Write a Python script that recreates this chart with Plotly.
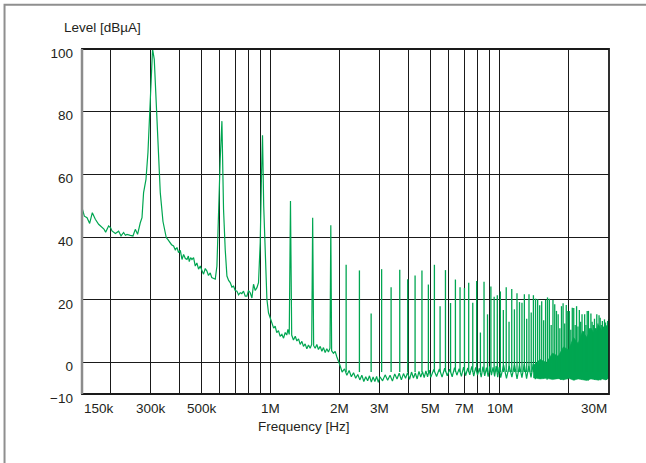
import math
import plotly.graph_objects as go

# ── Colours ──────────────────────────────────────────────────────────────────
C_TRACE = "#00A651"
C_GRID = "#1a1a1a"
C_TEXT = "#231f20"
C_LEFT = "#8c8c8c"
C_FRAME = "#8f8f8f"
FONT = "Liberation Sans, Arial, sans-serif"

# ── Data (frequency in MHz, level in dBµA) ──────────────────────────────────
# measured trace 150 kHz .. 2 MHz (fundamental + low harmonics)
lo_freq = [
    0.1505, 0.1536, 0.1578, 0.1620, 0.1664, 0.1690, 0.1715, 0.1773, 0.1835, 0.1870,
    0.1902, 0.1960, 0.2000, 0.2028, 0.2098, 0.2168, 0.2221, 0.2250, 0.2279, 0.2320,
    0.2359, 0.2438, 0.2504, 0.2563, 0.2623, 0.2695, 0.2742, 0.2786, 0.2854, 0.2911,
    0.2980, 0.3049, 0.3102, 0.3165, 0.3239, 0.3295, 0.3386, 0.3499, 0.3560, 0.3618,
    0.3690, 0.3766, 0.3830, 0.3898, 0.3960, 0.4030, 0.4100, 0.4166, 0.4240, 0.4310,
    0.4370, 0.4410, 0.4470, 0.4531, 0.4605, 0.4684, 0.4760, 0.4842, 0.4925, 0.5000,
    0.5090, 0.5180, 0.5266, 0.5350, 0.5445, 0.5530, 0.5612, 0.5726, 0.5824, 0.5919,
    0.6020, 0.6124, 0.6224, 0.6331, 0.6440, 0.6550, 0.6657, 0.6770, 0.6884, 0.7000,
    0.7120, 0.7240, 0.7360, 0.7480, 0.7607, 0.7740, 0.7873, 0.8000, 0.8140, 0.8280,
    0.8414, 0.8560, 0.8707, 0.8847, 0.9000, 0.9118, 0.9210, 0.9321, 0.9463, 0.9625,
    0.9781, 0.9950, 1.012, 1.030, 1.046, 1.063, 1.081, 1.100, 1.119, 1.138,
    1.157, 1.175, 1.189, 1.205, 1.220, 1.235, 1.257, 1.280, 1.301, 1.323,
    1.345, 1.368, 1.390, 1.414, 1.438, 1.462, 1.487, 1.510, 1.525, 1.540,
    1.564, 1.590, 1.616, 1.645, 1.673, 1.700, 1.729, 1.758, 1.787, 1.815,
    1.830, 1.845, 1.879, 1.912, 1.945, 1.978,
]
lo_level = [
    49.0, 46.7, 46.2, 44.4, 47.8, 46.5, 45.7, 44.1, 43.0, 42.6,
    41.6, 43.6, 43.0, 42.0, 41.2, 41.9, 40.4, 41.2, 41.5, 40.6,
    40.9, 40.6, 40.4, 42.5, 40.9, 44.6, 46.2, 54.2, 58.4, 67.0,
    81.8, 100.0, 96.7, 81.8, 67.0, 54.2, 45.0, 39.9, 39.2, 38.3,
    37.6, 37.2, 36.0, 36.7, 35.1, 35.8, 32.9, 34.5, 33.2, 32.9,
    34.0, 32.2, 33.5, 32.9, 33.5, 30.8, 31.8, 29.8, 30.8, 29.5,
    28.2, 30.0, 29.2, 27.8, 28.6, 27.1, 26.8, 26.6, 30.8, 48.9,
    65.0, 77.0, 48.9, 36.0, 27.6, 26.2, 25.5, 24.1, 24.4, 23.0,
    22.8, 21.6, 22.3, 22.0, 22.8, 21.2, 21.2, 23.0, 22.3, 20.6,
    25.0, 23.0, 23.9, 25.5, 38.3, 60.0, 72.5, 50.0, 32.9, 20.2,
    15.9, 14.0, 12.8, 11.0, 11.6, 9.6, 10.2, 8.4, 9.0, 7.8,
    9.6, 8.8, 10.6, 9.0, 51.5, 8.8, 7.2, 8.4, 6.9, 7.6,
    5.8, 6.8, 5.2, 6.0, 4.4, 5.6, 4.6, 5.8, 46.2, 5.4,
    4.6, 5.8, 4.2, 5.2, 3.6, 4.8, 3.2, 4.4, 3.4, 4.6,
    43.8, 3.8, 3.0, 3.6, 1.8, 0.5,
]

# noise floor 2 MHz .. 30 MHz
hf_freq = [
    2.00, 2.05, 2.10, 2.15, 2.20, 2.25, 2.30, 2.35, 2.40, 2.45,
    2.50, 2.55, 2.60, 2.65, 2.70, 2.75, 2.80, 2.85, 2.90, 2.95,
    3.00, 3.08, 3.16, 3.24, 3.32, 3.40, 3.48, 3.56, 3.64, 3.72,
    3.80, 3.88, 3.96, 4.04, 4.12, 4.20, 4.28, 4.36, 4.44, 4.52,
    4.60, 4.68, 4.76, 4.84, 4.92, 5.00, 5.15, 5.30, 5.45, 5.60,
    5.75, 5.90, 6.05, 6.20, 6.35, 6.50, 6.65, 6.80, 6.95, 7.10,
    7.25, 7.40, 7.55, 7.70, 7.85, 8.00, 8.15, 8.30, 8.45, 8.60,
    8.75, 8.90, 9.05, 9.20, 9.35, 9.50, 9.65, 9.80, 9.95, 10.1,
    10.4, 10.7, 11.0, 11.3, 11.6, 11.9, 12.2, 12.5, 12.8, 13.1,
    13.4, 13.7, 14.0, 14.3, 14.6, 14.9, 15.2, 15.5, 15.8, 16.1,
    16.4, 16.7, 17.0, 17.3, 17.6, 17.9, 18.2, 18.5, 18.8, 19.1,
    19.4, 19.7, 20.0, 20.4, 20.8, 21.2, 21.6, 22.0, 22.4, 22.8,
    23.2, 23.6, 24.0, 24.4, 24.8, 25.2, 25.6, 26.0, 26.4, 26.8,
    27.2, 27.6, 28.0, 28.4, 28.8, 29.2, 29.6, 30.0,
]
hf_level = [
    -0.5, -3.0, -2.0, -4.0, -2.5, -4.5, -3.2, -5.0, -3.8, -5.5,
    -4.0, -6.0, -4.5, -5.8, -4.2, -6.2, -4.6, -6.0, -4.4, -6.3,
    -4.5, -5.8, -3.9, -5.6, -4.0, -5.9, -3.6, -5.2, -3.4, -5.5,
    -3.5, -5.0, -3.2, -5.3, -3.0, -4.9, -3.3, -5.2, -2.8, -4.6,
    -2.9, -4.8, -2.6, -4.5, -2.4, -4.7, -2.2, -4.4, -2.0, -4.6,
    -1.8, -4.2, -2.1, -4.5, -1.6, -4.0, -1.9, -4.4, -1.4, -4.1,
    -1.7, -3.9, -1.2, -4.3, -1.5, -4.0, -1.8, -4.6, -1.3, -4.2,
    -1.6, -4.5, -1.2, -4.0, -1.5, -4.4, -1.1, -4.6, -1.4, -4.8,
    -0.8, -5.0, -1.0, -4.6, -0.6, -5.2, -0.9, -4.8, -0.5, -5.1,
    -1.0, -4.7, -0.4, -5.3, -0.8, -4.9, 0.0, -5.0, -0.5, -5.4,
    0.2, -4.8, -0.3, -5.2, 0.5, -5.0, 0.0, -5.5, 0.8, -4.9,
    0.3, -5.3, 1.0, -5.0, 1.5, -5.6, 0.8, -5.1, 1.8, -5.4,
    1.0, -5.0, 2.0, -5.7, 1.2, -5.2, 2.2, -5.5, 1.4, -5.0,
    2.5, -5.6, 1.6, -5.2, 2.3, -5.5, 1.8, -5.0,
]

# dense noise band above ~14 MHz
band_freq = [14, 15, 16, 17, 18, 19, 20, 21, 22, 23, 24, 25, 26, 27, 28, 29, 30]
band_top = [-1.0, 1.0, 0.0, 3.0, 2.0, 5.0, 4.0, 8.0, 6.0, 10.0, 8.0, 11.0, 9.0, 12.0, 10.0, 12.0, 11.0]
band_bottom = [-4.8, -5.2, -5.0, -5.4, -5.1, -5.5, -5.0, -5.6, -5.2, -5.4, -5.7, -5.2, -5.5, -5.6, -5.2, -5.5, -5.0]

# switching harmonics 2.1 MHz .. 30 MHz (peak levels)
harm_freq = [
    2.135, 2.44, 2.745, 3.05, 3.355, 3.66, 3.965, 4.27, 4.575, 4.88,
    5.185, 5.49, 5.795, 6.1, 6.405, 6.71, 7.015, 7.32, 7.625, 7.93,
    8.235, 8.54, 8.845, 9.15, 9.455, 9.76, 10.065, 10.37, 10.675, 10.98,
    11.285, 11.59, 11.895, 12.2, 12.505, 12.81, 13.115, 13.42, 13.725, 14.03,
    14.335, 14.64, 14.945, 15.25, 15.555, 15.86, 16.165, 16.47, 16.775, 17.08,
    17.385, 17.69, 17.995, 18.3, 18.605, 18.91, 19.215, 19.52, 19.825, 20.13,
    20.435, 20.74, 21.045, 21.35, 21.655, 21.96, 22.265, 22.57, 22.875, 23.18,
    23.485, 23.79, 24.095, 24.4, 24.705, 25.01, 25.315, 25.62, 25.925, 26.23,
    26.535, 26.84, 27.145, 27.45, 27.755, 28.06, 28.365, 28.67, 28.975, 29.28,
    29.585, 29.89,
]
harm_level = [
    31.2, 29.4, 15.7, 29.8, 24.0, 29.6, 26.6, 27.8, 29.4, 24.9,
    31.2, 18.0, 29.5, 19.0, 26.5, 24.0, 23.8, 25.5, 19.1, 26.0,
    9.6, 25.8, 15.4, 24.3, 21.0, 21.5, 22.7, 16.8, 24.0, 13.0,
    23.5, 17.0, 22.1, 19.3, 19.1, 21.8, 14.0, 21.8, 16.0, 21.5,
    20.4, 20.2, 18.3, 19.6, 13.5, 20.0, 20.8, 20.4, 12.0, 20.0,
    18.6, 16.5, 15.4, 11.0, 18.0, 18.9, 12.5, 18.4, 16.5, 16.5,
    10.5, 17.5, 17.4, 12.0, 18.0, 11.5, 16.8, 13.0, 15.4, 10.0,
    15.4, 12.0, 16.5, 16.5, 11.0, 15.7, 13.0, 12.0, 14.0, 11.0,
    15.4, 12.5, 15.1, 14.3, 12.0, 13.3, 11.5, 13.8, 12.8, 11.0,
    13.3, 13.8,
]
harm_base = -3.0

# axes
grid_freq = [0.2, 0.3, 0.4, 0.5, 0.6, 0.7, 0.8, 0.9, 1, 2, 3, 4, 5, 6, 7, 8, 9, 10, 20]
label_freq = [0.15, 0.3, 0.5, 1, 2, 3, 5, 7, 10, 30]
label_text = ["150k", "300k", "500k", "1M", "2M", "3M", "5M", "7M", "10M", "30M"]
level_ticks = [-10, 0, 20, 40, 60, 80, 100]

# ── Figure ───────────────────────────────────────────────────────────────────
fig = go.Figure()

fig.add_trace(go.Scatter(
    x=lo_freq + hf_freq, y=lo_level + hf_level, mode="lines",
    line=dict(color=C_TRACE, width=1.2), hoverinfo="skip", showlegend=False,
))

fig.add_trace(go.Scatter(
    x=band_freq, y=band_bottom, mode="lines",
    line=dict(color=C_TRACE, width=0.5), hoverinfo="skip", showlegend=False,
))
fig.add_trace(go.Scatter(
    x=band_freq, y=band_top, mode="lines", fill="tonexty", fillcolor=C_TRACE,
    line=dict(color=C_TRACE, width=0.8), hoverinfo="skip", showlegend=False,
))

sx, sy = [], []
for f, lv in zip(harm_freq, harm_level):
    sx += [f, f, None]
    sy += [harm_base, lv, None]
fig.add_trace(go.Scatter(
    x=sx, y=sy, mode="lines", line=dict(color=C_TRACE, width=1.3),
    hoverinfo="skip", showlegend=False,
))

# x tick labels (outer ones kept inside the frame)
annotations = []
for i, (f, t) in enumerate(zip(label_freq, label_text)):
    anchor = "left" if i == 0 else ("right" if i == len(label_freq) - 1 else "center")
    annotations.append(dict(
        x=math.log10(f), y=-0.041, xref="x", yref="paper", text=t,
        showarrow=False, xanchor=anchor, yanchor="middle",
        font=dict(family=FONT, size=13.5, color=C_TEXT),
    ))
annotations.append(dict(
    x=0.421, y=-0.095, xref="paper", yref="paper", text="Frequency [Hz]",
    showarrow=False, xanchor="center", yanchor="middle",
    font=dict(family=FONT, size=13.5, color=C_TEXT),
))
annotations.append(dict(
    x=-0.038, y=1.061, xref="paper", yref="paper", text="Level [dBµA]",
    showarrow=False, xanchor="left", yanchor="middle",
    font=dict(family=FONT, size=13.5, color=C_TEXT),
))

shapes = [
    # outer frame (runs off the bottom/right of the picture)
    dict(type="rect", xref="paper", yref="paper", x0=-0.147, x1=1.10, y0=-0.25, y1=1.128,
         line=dict(color=C_FRAME, width=2)),
    dict(type="rect", xref="paper", yref="paper", x0=0, x1=1, y0=0, y1=1,
         line=dict(color=C_GRID, width=1.8)),
    dict(type="line", xref="paper", yref="paper", x0=0, x1=0, y0=0, y1=1,
         line=dict(color=C_LEFT, width=2.5)),
]

fig.update_layout(
    width=646, height=463,
    margin=dict(l=82, r=37, t=49, b=69),
    paper_bgcolor="white", plot_bgcolor="white",
    font=dict(family=FONT, size=13.5, color=C_TEXT),
    showlegend=False,
    xaxis=dict(
        type="log", range=[math.log10(0.15), math.log10(30)],
        tickmode="array", tickvals=grid_freq, showticklabels=False,
        showgrid=True, gridcolor=C_GRID, gridwidth=1.3,
        zeroline=False, showline=False, ticks="",
    ),
    yaxis=dict(
        range=[-10, 100], tickmode="array", tickvals=level_ticks,
        showgrid=True, gridcolor=C_GRID, gridwidth=1.3,
        zeroline=False, showline=False, ticks="",
        ticklabelstandoff=8, ticklabelshift=4,
    ),
    annotations=annotations,
    shapes=shapes,
)

# page body has a default 8px margin; drop it so the 646x463 figure fills the window
fig.write_html(
    "out.html",
    config={"displayModeBar": False},
    post_script="document.body.style.margin='0';",
)
